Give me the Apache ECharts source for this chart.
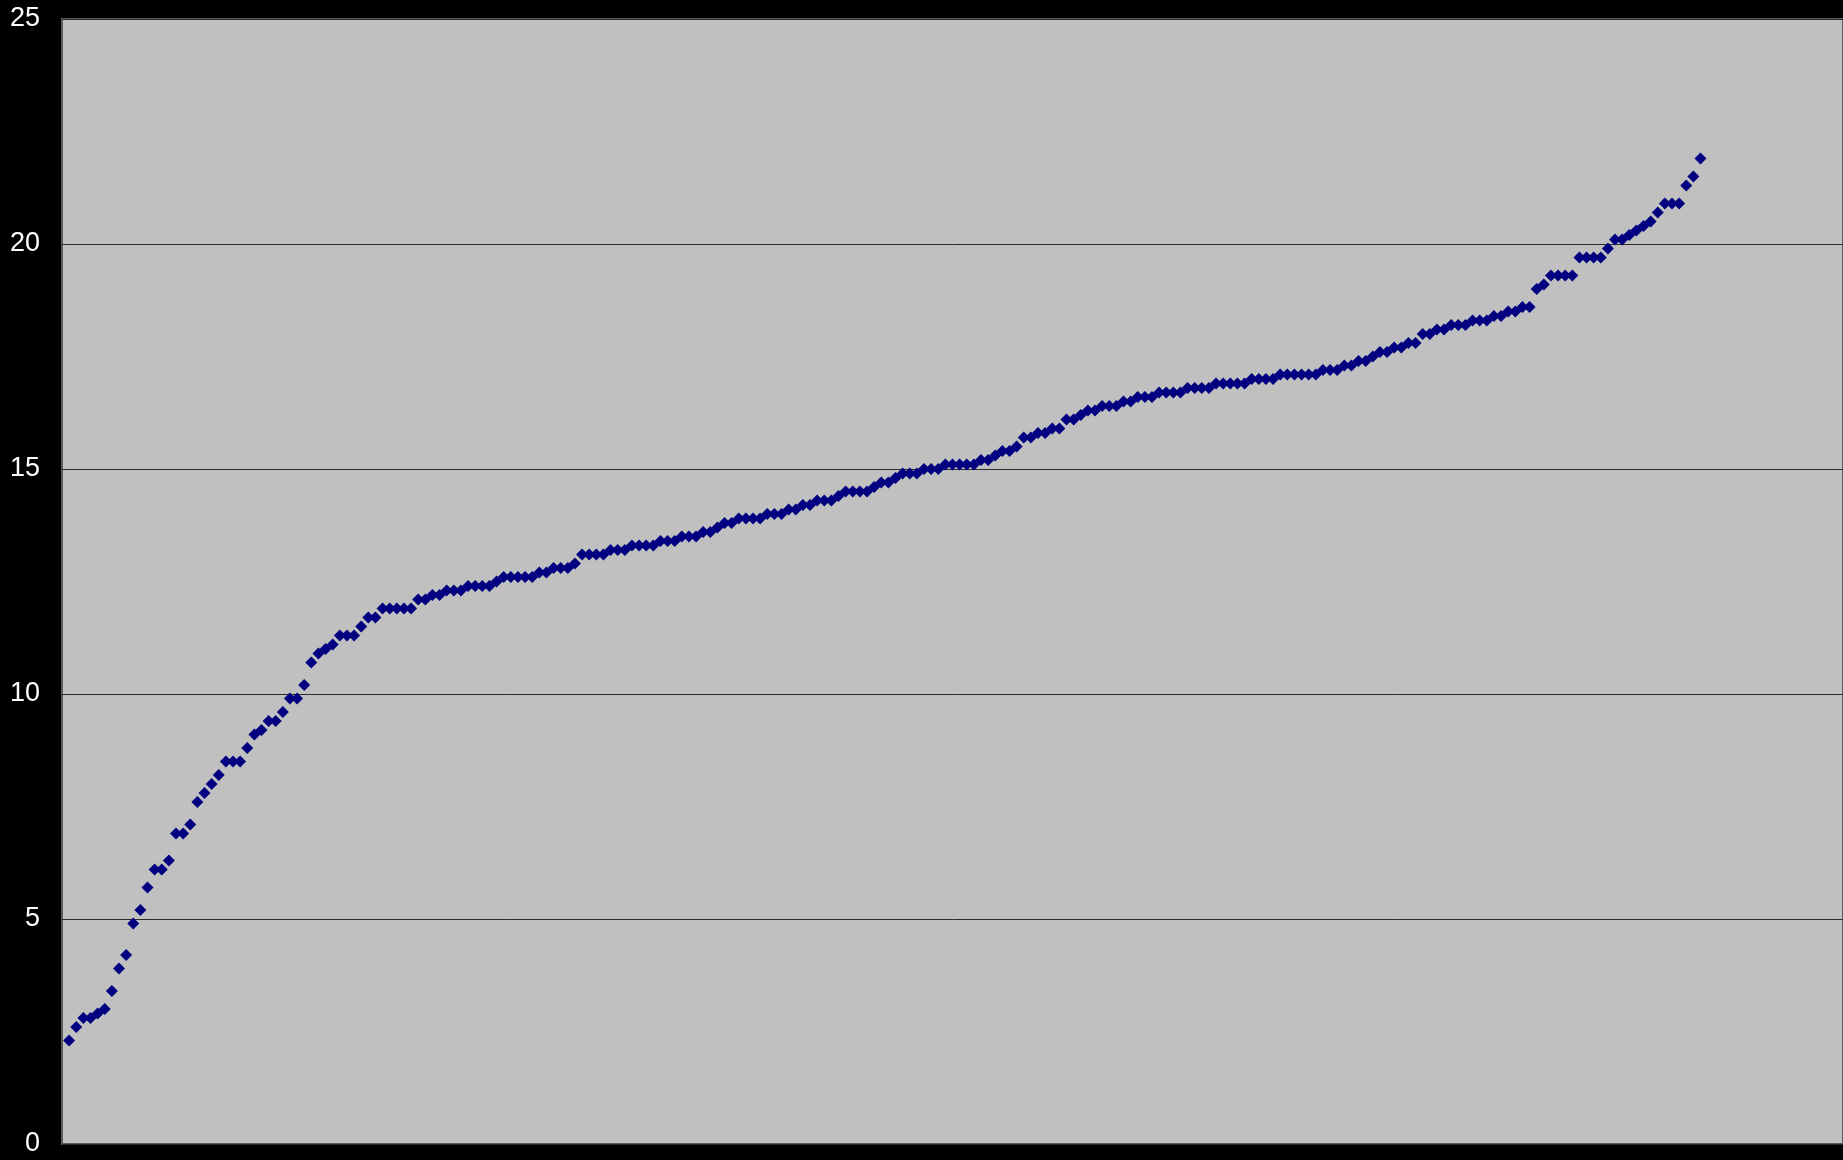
<!DOCTYPE html>
<html>
<head>
<meta charset="utf-8">
<script src="https://cdn.jsdelivr.net/npm/echarts@6/dist/echarts.min.js"></script>
<style>
  html, body { margin: 0; padding: 0; background: #000; }
  #chart { width: 1843px; height: 1160px; }
</style>
</head>
<body>
<div id="chart"></div>
<script>
// measured values, one per sample (sorted ascending)
const values = [
  2.3, 2.6, 2.8, 2.8, 2.9, 3.0, 3.4, 3.9, 4.2, 4.9,
  5.2, 5.7, 6.1, 6.1, 6.3, 6.9, 6.9, 7.1, 7.6, 7.8,
  8.0, 8.2, 8.5, 8.5, 8.5, 8.8, 9.1, 9.2, 9.4, 9.4,
  9.6, 9.9, 9.9, 10.2, 10.7, 10.9, 11.0, 11.1, 11.3, 11.3,
  11.3, 11.5, 11.7, 11.7, 11.9, 11.9, 11.9, 11.9, 11.9, 12.1,
  12.1, 12.2, 12.2, 12.3, 12.3, 12.3, 12.4, 12.4, 12.4, 12.4,
  12.5, 12.6, 12.6, 12.6, 12.6, 12.6, 12.7, 12.7, 12.8, 12.8,
  12.8, 12.9, 13.1, 13.1, 13.1, 13.1, 13.2, 13.2, 13.2, 13.3,
  13.3, 13.3, 13.3, 13.4, 13.4, 13.4, 13.5, 13.5, 13.5, 13.6,
  13.6, 13.7, 13.8, 13.8, 13.9, 13.9, 13.9, 13.9, 14.0, 14.0,
  14.0, 14.1, 14.1, 14.2, 14.2, 14.3, 14.3, 14.3, 14.4, 14.5,
  14.5, 14.5, 14.5, 14.6, 14.7, 14.7, 14.8, 14.9, 14.9, 14.9,
  15.0, 15.0, 15.0, 15.1, 15.1, 15.1, 15.1, 15.1, 15.2, 15.2,
  15.3, 15.4, 15.4, 15.5, 15.7, 15.7, 15.8, 15.8, 15.9, 15.9,
  16.1, 16.1, 16.2, 16.3, 16.3, 16.4, 16.4, 16.4, 16.5, 16.5,
  16.6, 16.6, 16.6, 16.7, 16.7, 16.7, 16.7, 16.8, 16.8, 16.8,
  16.8, 16.9, 16.9, 16.9, 16.9, 16.9, 17.0, 17.0, 17.0, 17.0,
  17.1, 17.1, 17.1, 17.1, 17.1, 17.1, 17.2, 17.2, 17.2, 17.3,
  17.3, 17.4, 17.4, 17.5, 17.6, 17.6, 17.7, 17.7, 17.8, 17.8,
  18.0, 18.0, 18.1, 18.1, 18.2, 18.2, 18.2, 18.3, 18.3, 18.3,
  18.4, 18.4, 18.5, 18.5, 18.6, 18.6, 19.0, 19.1, 19.3, 19.3,
  19.3, 19.3, 19.7, 19.7, 19.7, 19.7, 19.9, 20.1, 20.1, 20.2,
  20.3, 20.4, 20.5, 20.7, 20.9, 20.9, 20.9, 21.3, 21.5, 21.9
];
const yTicks = [0, 5, 10, 15, 20, 25];
const xMax = 250;

const textColor = '#FFFFFF';
const chart = echarts.init(document.getElementById('chart'));

// sample number on x, value on y
const points = values.map((v, i) => [i + 1, v]);

chart.setOption({
  backgroundColor: '#000000',
  animation: false,
  grid: {
    left: 62,
    right: 0,
    top: 19,
    bottom: 16,
    show: true,
    backgroundColor: '#C0C0C0',
    borderColor: '#5a5a5a',
    borderWidth: 2
  },
  xAxis: {
    type: 'value',
    min: 0,
    max: xMax,
    axisLabel: {show: false},
    axisTick: {show: false},
    axisLine: {show: false},
    splitLine: {show: false}
  },
  yAxis: {
    type: 'value',
    min: yTicks[0],
    max: yTicks[yTicks.length - 1],
    interval: 5,
    axisLine: {show: false},
    axisTick: {show: false},
    axisLabel: {
      color: textColor,
      fontFamily: 'Liberation Sans, Arial, sans-serif',
      fontSize: 27,
      margin: 22
    },
    splitLine: {lineStyle: {color: '#2b2b2b', width: 1}}
  },
  series: [{
    type: 'scatter',
    symbol: 'diamond',
    symbolSize: [12, 12],
    itemStyle: {color: '#000080', opacity: 1},
    data: points
  }]
});
</script>
</body>
</html>
